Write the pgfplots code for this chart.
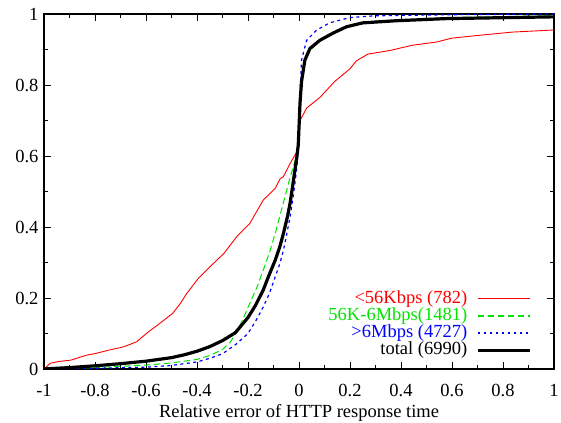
\documentclass[border=0pt]{standalone}
\usepackage{fontspec}
\setmainfont{Liberation Serif}
\usepackage{pgfplots}
\pgfplotsset{compat=1.18}
\definecolor{gpred}{rgb}{1,0,0}
\definecolor{gpgreen}{rgb}{0,0.9,0}
\definecolor{gpblue}{rgb}{0,0,1}
\begin{document}
\begin{tikzpicture}
\begin{axis}[
  scale only axis,
  width=510bp, height=355bp,
  xmin=-1, xmax=1, ymin=0, ymax=1,
  xtick={-1,-0.8,...,1.01}, ytick={0,0.2,...,1.01},
  minor x tick num=1, minor y tick num=1,
  tick align=inside,
  major tick length=7bp, minor tick length=4bp,
  every tick/.style={black, line width=0.8bp},
  axis line style={line width=1.2bp},
  font=\fontsize{18.5bp}{22bp}\selectfont,
  /pgf/number format/assume math mode=true,
  xticklabel style={/pgf/number format/.cd, fixed, precision=1},
  yticklabel style={/pgf/number format/.cd, fixed, precision=1},
  xticklabel shift=12bp, yticklabel shift=2bp,
  xlabel={Relative error of HTTP response time},
  xlabel style={yshift=-1bp},
  legend plot pos=right,
  legend cell align=right,
  legend style={draw=none, fill=none, at={(0.962,0.022)}, anchor=south east,
    row sep=0pt, column sep=9bp,
    nodes={inner sep=0pt, text height=13bp, text depth=4.2bp}},
  legend image code/.code={\draw[#1] (0bp,0bp) -- (52bp,0bp);},
]
\addplot[gpred, line width=0.9bp] coordinates {
(-1,0) (-0.976,0.016) (-0.944,0.021) (-0.895,0.025) (-0.833,0.039) (-0.796,0.044)
(-0.741,0.054) (-0.695,0.061) (-0.66,0.07) (-0.636,0.077) (-0.615,0.09) (-0.595,0.102) (-0.545,0.129)
(-0.495,0.157) (-0.465,0.185) (-0.44,0.213) (-0.395,0.255) (-0.349,0.288) (-0.294,0.326)
(-0.244,0.373) (-0.193,0.41) (-0.165,0.445) (-0.14,0.476) (-0.093,0.509) (-0.075,0.535)
(-0.061,0.542) (-0.035,0.579) (-0.01,0.61) (-0.003,0.64) (0.004,0.70)
(0.03,0.735) (0.082,0.765) (0.14,0.81) (0.199,0.845) (0.225,0.868) (0.27,0.887)
(0.355,0.897) (0.445,0.912) (0.539,0.921) (0.6,0.932) (0.707,0.94) (0.836,0.949) (1,0.955)
};
\addlegendentry{\textcolor{gpred}{<56Kbps (782)}}
\addplot[gpgreen, line width=1bp, dash pattern=on 6.5bp off 3.5bp,
  legend image post style={draw=gpgreen, line width=1.2bp}] coordinates {
(-1,0) (-0.8,0.004) (-0.6,0.011) (-0.5,0.017) (-0.4,0.027) (-0.35,0.038) (-0.3,0.055)
(-0.27,0.075) (-0.244,0.105) (-0.22,0.14) (-0.193,0.185) (-0.165,0.23) (-0.14,0.279)
(-0.115,0.33) (-0.093,0.382) (-0.07,0.445) (-0.048,0.504) (-0.035,0.54) (-0.022,0.57)
(-0.01,0.6) (-0.003,0.62) (0.003,0.72) (0.008,0.80) (0.016,0.85) (0.04,0.895) (0.094,0.932)
(0.15,0.955) (0.2,0.968) (0.3,0.98) (0.6,0.99) (1,0.995)
};
\addlegendentry{\textcolor{gpgreen}{56K-6Mbps(1481)}}
\addplot[gpblue, line width=1.2bp, dash pattern=on 3bp off 3.5bp,
  legend image post style={draw=gpblue, line width=1.7bp, dash pattern=on 2.5bp off 3.5bp}] coordinates {
(-1,0) (-0.8,0.002) (-0.6,0.005) (-0.5,0.01) (-0.4,0.02) (-0.35,0.03) (-0.3,0.043)
(-0.25,0.068) (-0.2,0.1) (-0.17,0.135) (-0.14,0.175) (-0.115,0.215) (-0.093,0.26)
(-0.075,0.297) (-0.061,0.335) (-0.048,0.38) (-0.035,0.429) (-0.025,0.475) (-0.016,0.523)
(-0.008,0.57) (-0.003,0.62) (0.002,0.75) (0.01,0.87) (0.03,0.926) (0.07,0.955) (0.12,0.975)
(0.2,0.99) (0.3,0.995) (0.6,0.998) (1,1.0)
};
\addlegendentry{\textcolor{gpblue}{>6Mbps (4727)}}
\addplot[black, line width=3.2bp] coordinates {
(-1,0) (-0.9,0.004) (-0.8,0.009) (-0.7,0.015) (-0.6,0.022) (-0.5,0.032) (-0.45,0.04)
(-0.4,0.05) (-0.35,0.063) (-0.3,0.08) (-0.25,0.102) (-0.2,0.145) (-0.17,0.18) (-0.14,0.223)
(-0.12,0.26) (-0.093,0.307) (-0.075,0.345) (-0.061,0.382) (-0.045,0.43) (-0.035,0.467)
(-0.025,0.515) (-0.016,0.561) (-0.008,0.6) (-0.003,0.63) (0,0.68) (0.004,0.75) (0.01,0.81)
(0.023,0.87) (0.043,0.903) (0.082,0.926) (0.133,0.946) (0.186,0.964) (0.25,0.975)
(0.38,0.981) (0.577,0.987) (1,0.992)
};
\addlegendentry{total (6990)}
\end{axis}
\pgfresetboundingbox
\useasboundingbox (-44bp,-54bp) rectangle (517bp,369bp);
\end{tikzpicture}
\end{document}
